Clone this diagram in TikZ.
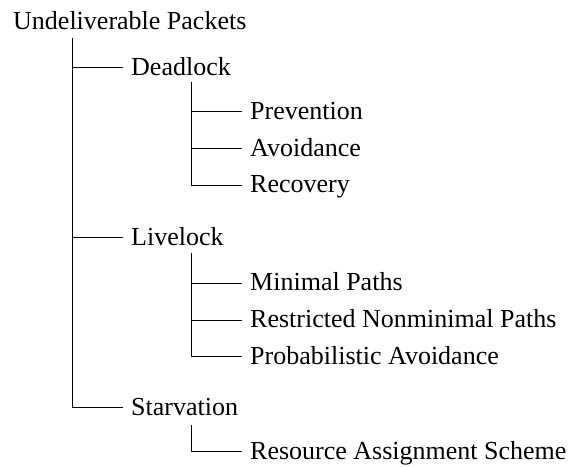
\documentclass[tikz,border=0pt]{standalone}
\usepackage{fontspec}
\setmainfont{Liberation Serif}
\begin{document}
\begin{tikzpicture}[x=1pt,y=-1pt,
  every node/.style={font=\fontsize{26}{31}\selectfont},
  treenode/.style={anchor=west,inner xsep=8pt,inner ysep=0pt,
    text height=15.5pt,text depth=0pt},
  branch/.style={line width=1pt,black}]
  \useasboundingbox (0,0) rectangle (577,466);

  % root
  \node[treenode,anchor=base west,inner xsep=0pt] (root) at (13,29.5) {Undeliverable Packets};

  % first level
  \node[treenode] (dead)  at (123,67.3)  {Deadlock};
  \node[treenode] (live)  at (123,237.3) {Livelock};
  \node[treenode] (starv) at (123,407.3) {Starvation};

  % second level
  \node[treenode] (prev) at (242,111.7) {Prevention};
  \node[treenode] (avoi) at (242,148.5) {Avoidance};
  \node[treenode] (reco) at (242,185)   {Recovery};
  \node[treenode] (mini) at (242,283)   {Minimal Paths};
  \node[treenode] (rest) at (242,320)   {Restricted Nonminimal Paths};
  \node[treenode] (prob) at (242,356.5) {Probabilistic Avoidance};
  \node[treenode] (reso) at (242,451.7) {Resource Assignment Scheme};

  % tops of the vertical bars
  \coordinate (b0) at (72.3,38);
  \coordinate (b1) at (191.5,82);
  \coordinate (b2) at (191.5,253);
  \coordinate (b3) at (191.5,425);

  % connectors
  \draw[branch] (b0) |- (starv.west);
  \draw[branch] (b0 |- dead.west) -- (dead.west);
  \draw[branch] (b0 |- live.west) -- (live.west);

  \draw[branch] (b1) |- (reco.west);
  \draw[branch] (b1 |- prev.west) -- (prev.west);
  \draw[branch] (b1 |- avoi.west) -- (avoi.west);

  \draw[branch] (b2) |- (prob.west);
  \draw[branch] (b2 |- mini.west) -- (mini.west);
  \draw[branch] (b2 |- rest.west) -- (rest.west);

  \draw[branch] (b3) |- (reso.west);
\end{tikzpicture}
\end{document}
